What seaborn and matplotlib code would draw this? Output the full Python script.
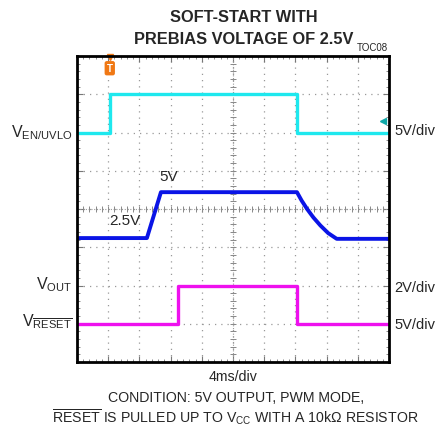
import numpy as np
import matplotlib
matplotlib.use("Agg")
import matplotlib.pyplot as plt
import seaborn as sns

# time in ms (4 ms/div), levels in screen divisions
en_t = [0, 4.2, 4.2, 28.2, 28.2, 40]
en_v = [6.0, 6.0, 7.0, 7.0, 6.0, 6.0]

out_t = [0, 8.96, 10.76, 28.2, 28.8, 29.5, 30.3, 31.2, 32.2, 33.3, 40]
out_v = [3.24, 3.24, 4.44, 4.44, 4.22, 4.0, 3.78, 3.57, 3.37, 3.22, 3.22]

rst_t = [0, 13.0, 13.0, 28.2, 28.2, 40]
rst_v = [1.0, 1.0, 2.0, 2.0, 1.0, 1.0]

sns.set_theme(style="white")
plt.rcParams["font.family"] = ["Liberation Sans", "DejaVu Sans"]
plt.rcParams["mathtext.fontset"] = "custom"
plt.rcParams["mathtext.rm"] = "Liberation Sans"
plt.rcParams["mathtext.it"] = "Liberation Sans"

W, H = 440, 427
fig = plt.figure(figsize=(W / 100, H / 100), dpi=100)
ax = fig.add_axes([77 / W, 1 - 363 / H, 312 / W, 306 / H])


def fx(x):
    return x / W


def fy(y):
    return 1 - y / H


ax.set_xlim(0, 40)
ax.set_ylim(0, 8)
ax.set_xticks(np.arange(0, 41, 4))
ax.set_yticks(np.arange(0, 9, 1))
ax.set_xticks(np.arange(0, 40.01, 0.8), minor=True)
ax.set_yticks(np.arange(0, 8.01, 0.2), minor=True)
ax.tick_params(which="both", direction="in", top=True, right=True,
               bottom=True, left=True, labelbottom=False, labelleft=False,
               color="#777777")
ax.tick_params(which="major", length=4, width=0.8)
ax.tick_params(which="minor", length=2.5, width=0.6)
ax.grid(True, which="major", color="#999999", linestyle=(0, (1, 4)), linewidth=0.9)
for s in ax.spines.values():
    s.set_color("black")
    s.set_linewidth(2)

# centre crosshair with fine ticks
ax.axhline(4, color="#999999", lw=0.8, ls=(0, (1, 1.5)))
ax.axvline(20, color="#999999", lw=0.8, ls=(0, (1, 1.5)))
ax.plot(np.arange(0, 40.01, 0.8), np.full(51, 4.0), ls="none", marker="|",
        ms=5, mew=0.7, color="#888888")
ax.plot(np.full(41, 20.0), np.arange(0, 8.01, 0.2), ls="none", marker="_",
        ms=5, mew=0.7, color="#888888")

sns.lineplot(x=en_t, y=en_v, ax=ax, sort=False, estimator=None,
             color="#1ee8ee", linewidth=2.4)
sns.lineplot(x=out_t, y=out_v, ax=ax, sort=False, estimator=None,
             color="#0a14e6", linewidth=2.8)
sns.lineplot(x=rst_t, y=rst_v, ax=ax, sort=False, estimator=None,
             color="#ee10ee", linewidth=2.4)

# trigger marker and channel marker
ax.plot([4.2], [7.97], marker="v", ms=5, color="#f07814", clip_on=False)
ax.text(4.2, 7.68, "T", ha="center", va="center", color="white", fontsize=7,
        fontweight="bold",
        bbox=dict(boxstyle="round,pad=0.15", fc="#f07814", ec="#f07814"))
ax.plot([39.2], [6.3], marker="<", ms=5, color="#10a8a8", clip_on=False)

ax.text(11.8, 4.85, "5V", fontsize=11, ha="center", va="center")
ax.text(6.2, 3.72, "2.5V", fontsize=11, ha="center", va="center")

# titles
fig.text(fx(244), fy(17), "SOFT-START WITH", ha="center", va="center",
         fontsize=11.8, fontweight="bold")
fig.text(fx(244), fy(40), "PREBIAS VOLTAGE OF 2.5V", ha="center", va="center",
         fontsize=11.8, fontweight="bold")
fig.text(fx(372), fy(48), "TOC08", ha="center", va="center", fontsize=7)

# channel labels
fig.text(fx(72), fy(133), r"V$_{\mathrm{EN/UVLO}}$", ha="right", va="center", fontsize=11.5)
fig.text(fx(72), fy(285), r"V$_{\mathrm{OUT}}$", ha="right", va="center", fontsize=11.5)
fig.text(fx(72), fy(322), r"V$_{\overline{\mathrm{RESET}}}$", ha="right", va="center", fontsize=11.5)
fig.text(fx(394), fy(131), "5V/div", ha="left", va="center", fontsize=10.5)
fig.text(fx(394), fy(288), "2V/div", ha="left", va="center", fontsize=10.5)
fig.text(fx(394), fy(325), "5V/div", ha="left", va="center", fontsize=10.5)

fig.text(fx(233), fy(377), "4ms/div", ha="center", va="center", fontsize=10.2)
fig.text(fx(236), fy(398), "CONDITION: 5V OUTPUT, PWM MODE,", ha="center",
         va="center", fontsize=10.2)
fig.text(fx(235), fy(417),
         r"$\overline{\mathrm{RESET}}$ IS PULLED UP TO V$_{\mathrm{CC}}$ WITH A 10kΩ RESISTOR",
         ha="center", va="center", fontsize=10.2)

fig.savefig("out.png", dpi=100)
